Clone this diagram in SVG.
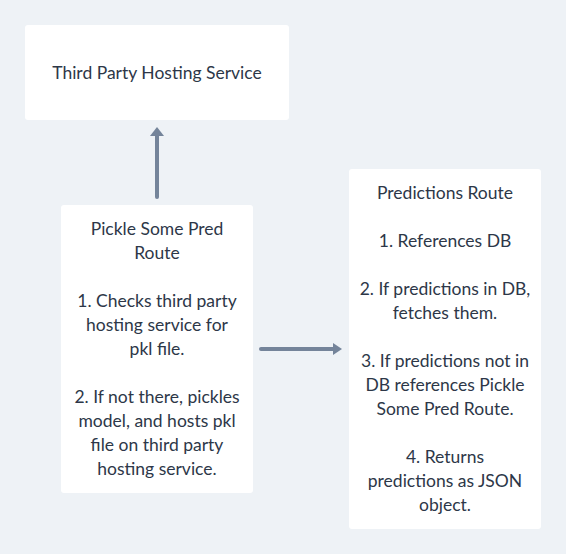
<svg xmlns="http://www.w3.org/2000/svg" width="566" height="554" viewBox="0 0 566 554">
<style>
.bg{fill:#eef2f6}
.box{fill:#ffffff}
.t{font-family:"Lato","Liberation Sans",sans-serif;font-size:17.5px;fill:#2d3748;text-anchor:middle;dominant-baseline:central}
.edge{stroke:#74849a;stroke-width:4;stroke-linecap:round;fill:none}
.head{fill:#74849a}
</style>
<rect class="bg" x="0" y="0" width="566" height="554"/>
<g id="connectors">
<line class="edge" x1="157" y1="197" x2="157" y2="134"/>
<polygon class="head" points="157,127 164,136 150,136"/>
<line class="edge" x1="261" y1="349" x2="335" y2="349"/>
<polygon class="head" points="342,349 333,343 333,355"/>
</g>
<g id="third-party">
<rect class="box" x="25" y="25" width="264" height="95" rx="3"/>
<text class="t" x="157" y="72">Third Party Hosting Service</text>
</g>
<g id="pickle-route">
<rect class="box" x="61" y="205" width="192" height="288" rx="3"/>
<text class="t" x="157" y="228">Pickle Some Pred</text>
<text class="t" x="157" y="252">Route</text>
<text class="t" x="157" y="300">1. Checks third party</text>
<text class="t" x="157" y="324">hosting service for</text>
<text class="t" x="157" y="348">pkl file.</text>
<text class="t" x="157" y="396">2. If not there, pickles</text>
<text class="t" x="157" y="420">model, and hosts pkl</text>
<text class="t" x="157" y="444">file on third party</text>
<text class="t" x="157" y="468">hosting service.</text>
</g>
<g id="predictions-route">
<rect class="box" x="349" y="169" width="192" height="360" rx="3"/>
<text class="t" x="445" y="192">Predictions Route</text>
<text class="t" x="445" y="240">1. References DB</text>
<text class="t" x="445" y="288">2. If predictions in DB,</text>
<text class="t" x="445" y="312">fetches them.</text>
<text class="t" x="445" y="360">3. If predictions not in</text>
<text class="t" x="445" y="384">DB references Pickle</text>
<text class="t" x="445" y="408">Some Pred Route.</text>
<text class="t" x="445" y="456">4. Returns</text>
<text class="t" x="445" y="480">predictions as JSON</text>
<text class="t" x="445" y="504">object.</text>
</g>
</svg>
